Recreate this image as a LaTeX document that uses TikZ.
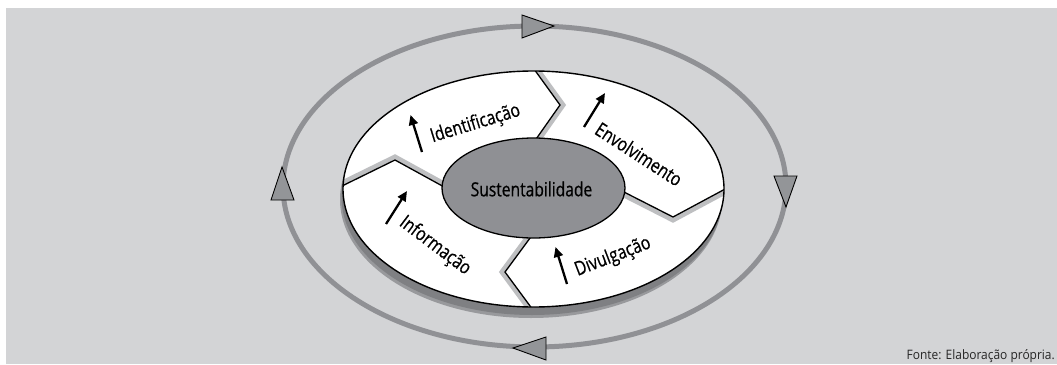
\documentclass[tikz,border=0pt]{standalone}
\usepackage{fontspec}
\setmainfont{Open Sans}[FakeStretch=0.8,FakeBold=0.6]
\newfontfamily\srcfont{Open Sans}[FakeStretch=0.92]
\usetikzlibrary{arrows.meta,calc,shapes.geometric}
\definecolor{bg}{HTML}{D3D4D6}
\definecolor{ring}{HTML}{909195}
\definecolor{tri}{HTML}{939598}
\definecolor{core}{HTML}{8F9094}
\definecolor{dshadow}{HTML}{7F8083}
\definecolor{lshadow}{HTML}{BEBFC1}
\tikzset{
  tribox/.style={fill=tri, draw=black, line width=0.9pt, line join=miter},
  divline/.style={draw=black, line width=1.3pt},
  divshadow/.style={draw=lshadow, line width=5pt},
  lbl/.style={font=\fontsize{19.5}{22}\selectfont, inner sep=0pt, text=black},
  uparrow/.style={draw=black, line width=2.3pt, -{Triangle[length=10pt,width=9pt]}},
}
\begin{document}
\begin{tikzpicture}[x=1pt,y=-1pt]
\useasboundingbox (0,0) rectangle (1057,364);
\fill[bg] (6,8) rectangle (1057,364);
% outer ring
\draw[ring, line width=5pt] (534.5,186.5) ellipse [x radius=251.5pt, y radius=160.5pt];
% direction triangles
\draw[tribox] (522,15) -- (554,26) -- (522,38) -- cycle;
\draw[tribox] (774,176) -- (786,207) -- (797,176) -- cycle;
\draw[tribox] (546,337) -- (513,348) -- (546,360) -- cycle;
\draw[tribox] (271,200) -- (282,167) -- (294,200) -- cycle;
% disc shadow and disc
\fill[dshadow!70!bg] (531,199.5) ellipse [x radius=191pt, y radius=118.5pt];
\fill[dshadow] (532,197) ellipse [x radius=190.5pt, y radius=118pt];
\fill[white] (533.5,189) ellipse [x radius=190.5pt, y radius=118pt];
% divider points
\coordinate (t1) at (534,69);
\coordinate (t2) at (560,105);
\coordinate (t3) at (534,142);
\coordinate (r1) at (620,190);
\coordinate (r2) at (673,217);
\coordinate (r3) at (727,188);
\coordinate (b1) at (533,234);
\coordinate (b2) at (505,272);
\coordinate (b3) at (533,310);
\coordinate (l1) at (340,187);
\coordinate (l2) at (395,160);
\coordinate (l3) at (446,188);
\begin{scope}
  \clip (533.5,189) ellipse [x radius=190.5pt, y radius=118pt];
  \draw[divshadow] ($(t1)+(3,0)$) -- ($(t2)+(3,0)$) -- ($(t3)+(3,0)$);
  \draw[divshadow] ($(r1)+(0,3)$) -- ($(r2)+(0,3)$) -- ($(r3)+(0,3)$);
  \draw[divshadow] ($(b1)+(-3,0)$) -- ($(b2)+(-3,0)$) -- ($(b3)+(-3,0)$);
  \draw[divshadow] ($(l1)+(0,-3)$) -- ($(l2)+(0,-3)$) -- ($(l3)+(0,-3)$);
  \draw[divline] (t1) -- (t2) -- (t3);
  \draw[divline] (r1) -- (r2) -- (r3);
  \draw[divline] (b1) -- (b2) -- (b3);
  \draw[divline] (l1) -- (l2) -- (l3);
\end{scope}
\draw[black, line width=1.4pt] (533.5,189) ellipse [x radius=190.5pt, y radius=118pt];
% core
\node[ellipse, fill=core, draw=black, line width=1.3pt, minimum width=183pt, minimum height=100pt, inner sep=0pt] (sus) at (533.5,188) {};
\node[lbl] (sustxt) at (531.5,189) {Sustentabilidade};
% labels
\node[lbl, rotate=17] (ident) at (475.5,124) {Identificação};
\node[lbl, rotate=-33] (envol) at (639,154) {Envolvimento};
\node[lbl, rotate=-37] (info) at (435,246) {Informação};
\node[lbl, rotate=21] (divul) at (613,257) {Divulgação};
% arrows
\coordinate (ia) at (422,152); \coordinate (ib) at (410.5,115);
\coordinate (ea) at (584,127); \coordinate (eb) at (605,93);
\coordinate (na) at (386,224); \coordinate (nb) at (407,191);
\coordinate (da) at (567,284); \coordinate (db) at (555.5,247);
\draw[uparrow] (ia) -- (ib);
\draw[uparrow] (ea) -- (eb);
\draw[uparrow] (na) -- (nb);
\draw[uparrow] (da) -- (db);
% source
\node[anchor=base east, inner sep=0pt, font=\srcfont\fontsize{13}{15}\selectfont, text=black!85] (src) at (1055,359) {Fonte: Elaboração própria.};
\end{tikzpicture}
\end{document}
